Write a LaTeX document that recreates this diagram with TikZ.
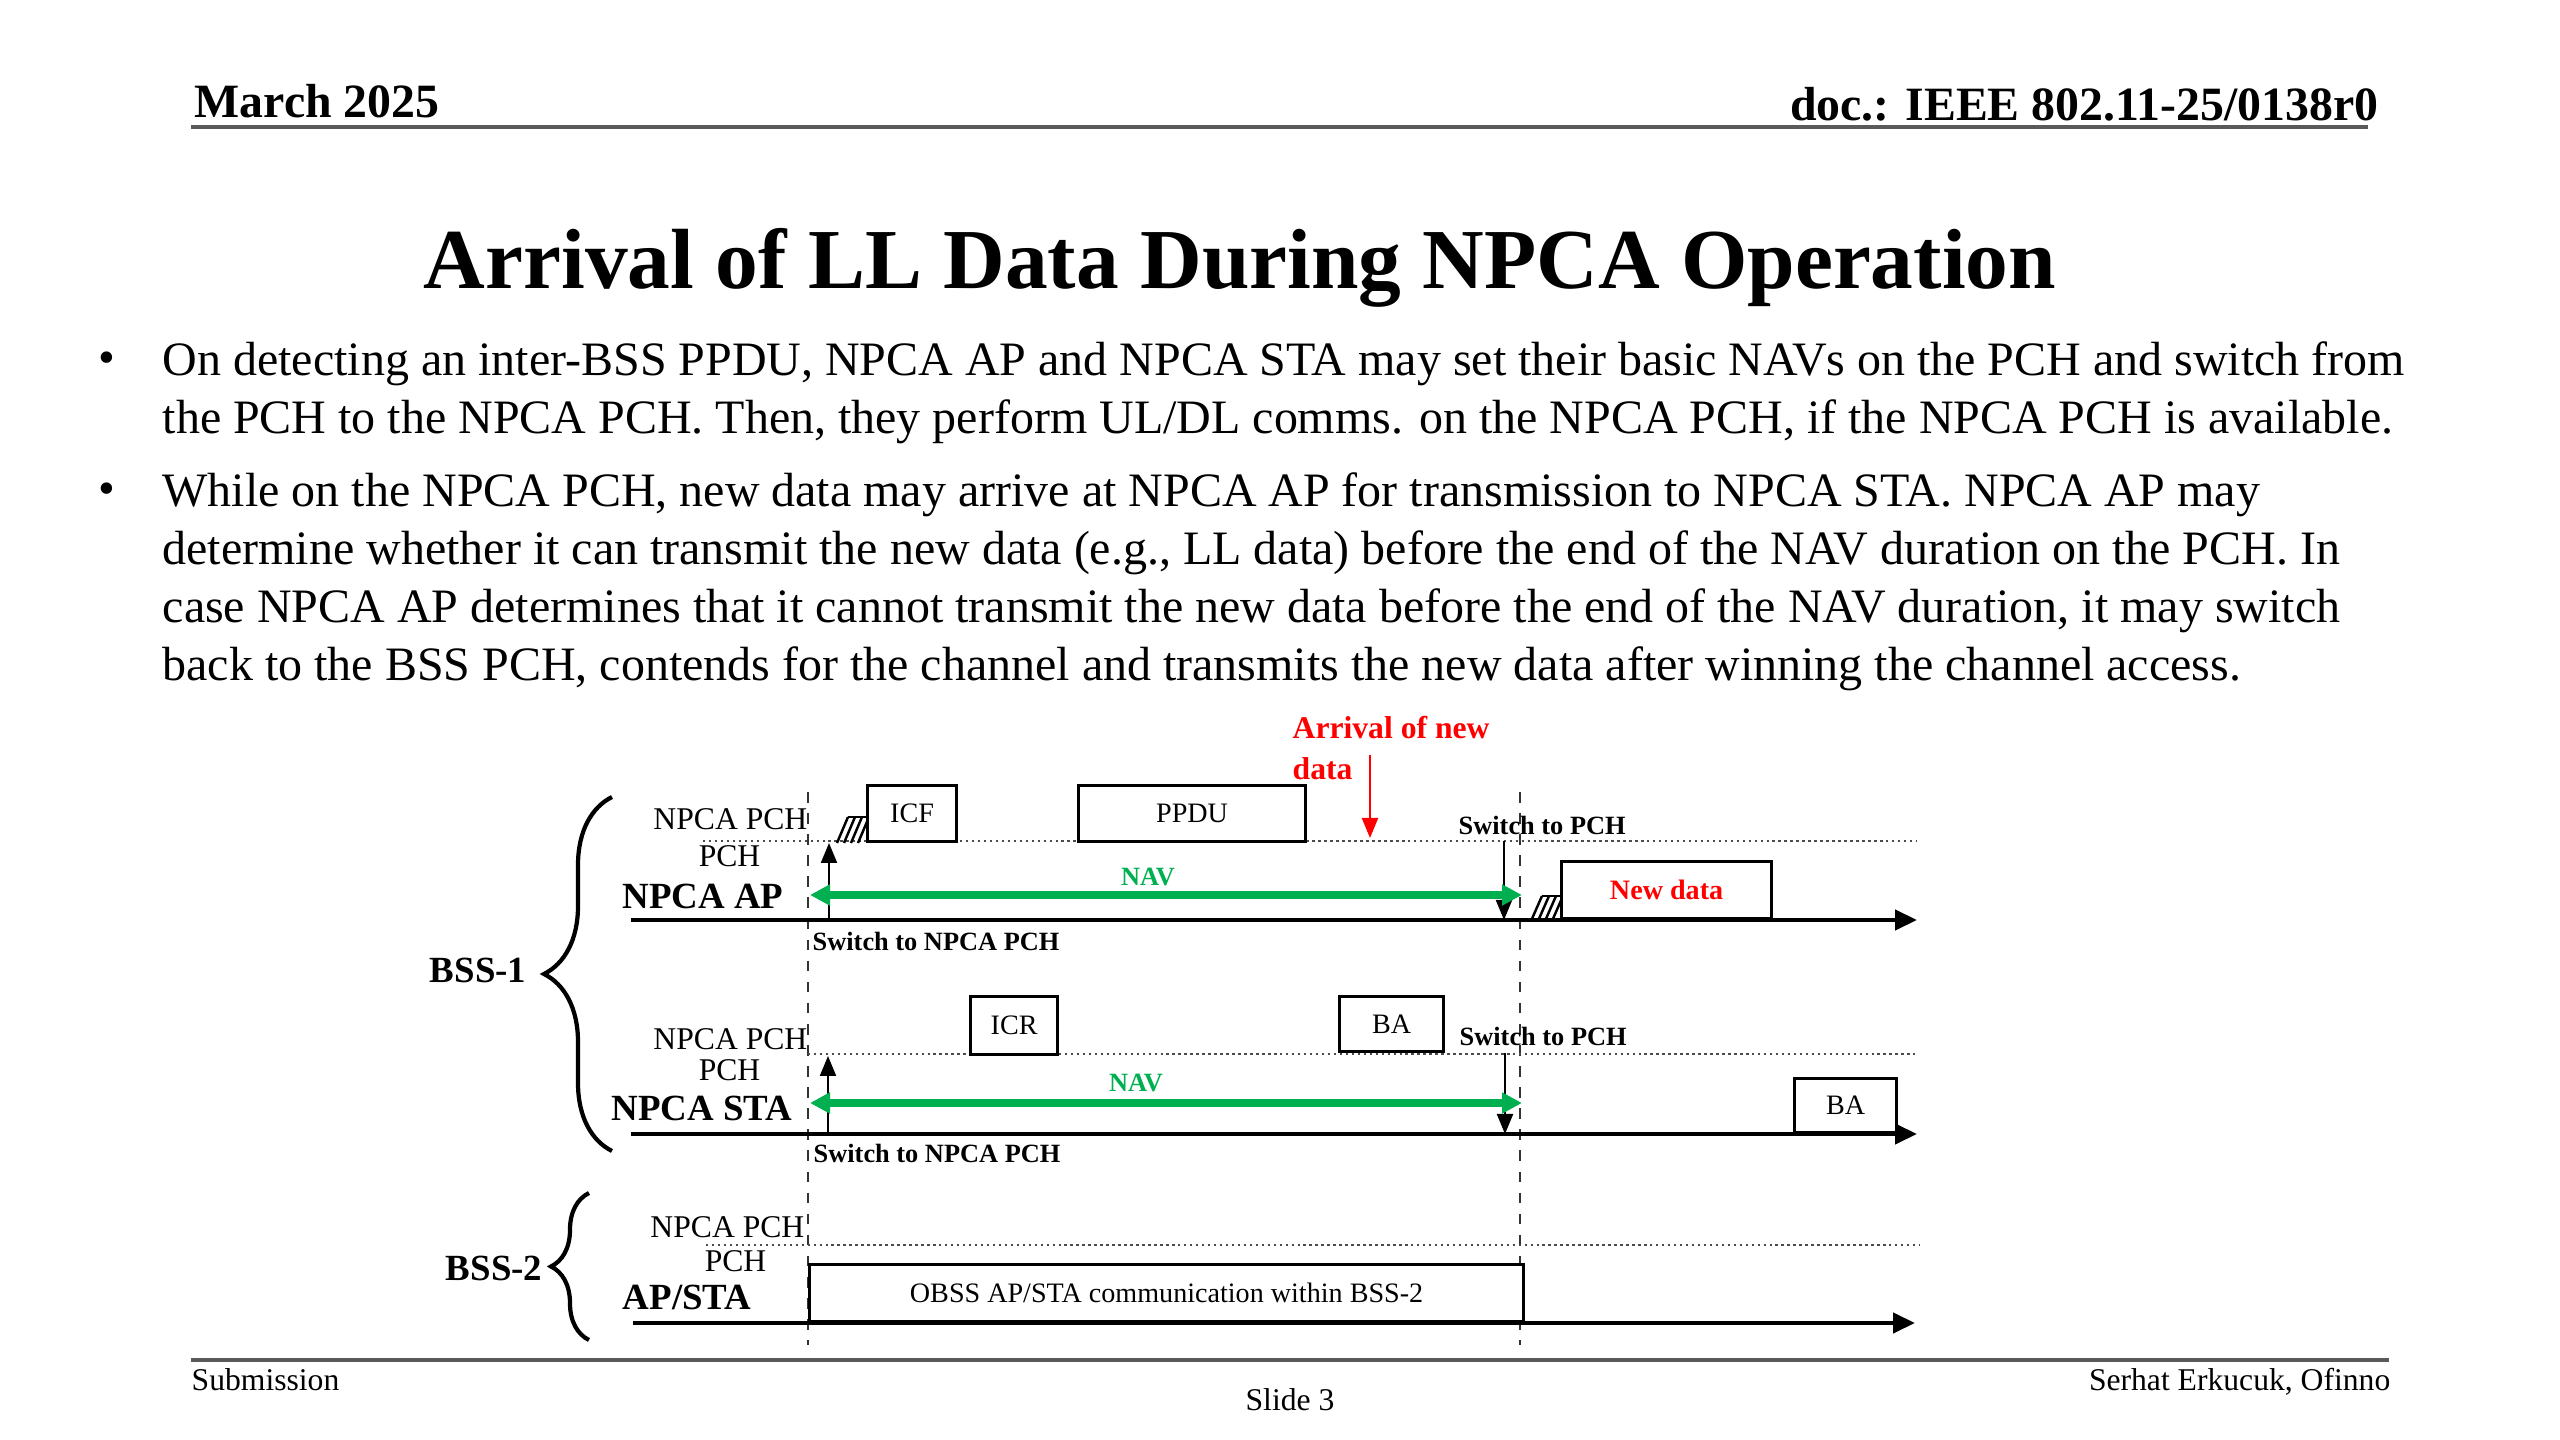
\documentclass[tikz,border=0pt]{standalone}
\usepackage{fontspec}
\setmainfont{Liberation Serif}
\usetikzlibrary{arrows.meta,positioning,decorations.pathreplacing}
\definecolor{navgreen}{RGB}{0,176,80}
\definecolor{alertred}{RGB}{255,0,0}
\definecolor{rulegrey}{RGB}{90,90,90}

\begin{document}
\begin{tikzpicture}[x=0.1mm,y=-0.1mm, every node/.style={inner sep=0pt},
  hdr/.style={font=\fontsize{13.6}{16}\selectfont\bfseries},
  foot/.style={font=\fontsize{9}{11}\selectfont},
  body/.style={font=\fontsize{13.65}{16.5}\selectfont,align=left,anchor=north west},
  chan/.style={font=\fontsize{9}{10}\selectfont,anchor=base east},
  dev/.style={font=\fontsize{10.5}{12}\selectfont\bfseries,anchor=base east},
  grp/.style={font=\fontsize{10.5}{12}\selectfont\bfseries,anchor=east},
  note/.style={font=\fontsize{7.5}{9}\selectfont\bfseries,anchor=base west},
  pkt/.style={draw,line width=0.9pt,fill=white,font=\fontsize{8}{9}\selectfont,anchor=south west},
  axis/.style={line width=1.2pt,-{Triangle[length=2.2mm,width=2mm]}},
  npch/.style={densely dotted,line width=0.7pt,black!70},
  tick/.style={dashed,line width=0.5pt,black!80},
  nav/.style={navgreen,line width=2pt,{Triangle[length=2mm,width=2mm]}-{Triangle[length=2mm,width=2mm]}},
  sw/.style={-{Triangle[length=2mm,width=1.6mm]},line width=0.6pt},
  bo/.style={line width=0.7pt},
  brc/.style={decorate,line width=1.2pt}]
\useasboundingbox (0,0) rectangle (2560,1440);

\node[hdr,anchor=base west] (date) at (194,118) {March 2025};
\node[hdr,anchor=base east] (doc) at (2379,121) {doc.: IEEE 802.11-25/0138r0};
\draw[rulegrey,line width=1.2pt] (191,127) -- (2368,127);
\node[font=\fontsize{24.3}{28}\selectfont\bfseries,anchor=base] (title) at (1240,289)
  {Arrival of LL Data During NPCA Operation};

\node[body,anchor=base west] (d1) at (98,374) {•};
\node[body] (p1) at (162,341) {On detecting an inter-BSS PPDU, NPCA AP and NPCA STA may set their basic NAVs on the PCH and switch from\\
  the PCH to the NPCA PCH. Then, they perform UL/DL comms. on the NPCA PCH, if the NPCA PCH is available.};
\node[body,anchor=base west] (d2) at (98,505) {•};
\node[body] (p2) at (162,472) {While on the NPCA PCH, new data may arrive at NPCA AP for transmission to NPCA STA. NPCA AP may\\
  determine whether it can transmit the new data (e.g., LL data) before the end of the NAV duration on the PCH. In\\
  case NPCA AP determines that it cannot transmit the new data before the end of the NAV duration, it may switch\\
  back to the BSS PCH, contends for the channel and transmits the new data after winning the channel access.};

\coordinate (t0a) at (808,792); \coordinate (t0b) at (808,1345);
\coordinate (t1a) at (1520,792); \coordinate (t1b) at (1520,1345);
\draw[tick] (t0a) -- (t0b);
\draw[tick] (t1a) -- (t1b);

\coordinate (b1t) at (612,797); \coordinate (b1b) at (612,1151);
\draw[brc,decoration={brace,amplitude=6.8mm}] (b1b) -- (b1t);
\node[grp] (bss1) at (527,970) {BSS-1};
\coordinate (b2t) at (589,1193); \coordinate (b2b) at (589,1340);
\draw[brc,decoration={brace,amplitude=3.8mm}] (b2b) -- (b2t);
\node[grp] (bss2) at (543,1268) {BSS-2};

% NPCA AP
\node[chan] (apn) at (808,830) {NPCA PCH};
\node[chan] (app) at (761,867) {PCH};
\node[dev] (ap) at (784,909) {NPCA AP};
\coordinate (ap0) at (631,920); \coordinate (ap1) at (1917,920);
\coordinate (apd0) at (703,841); \coordinate (apd1) at (1917,841);
\draw[npch] (apd0) -- (apd1);
\draw[axis] (ap0) -- (ap1);
\foreach \i in {0,...,3}
  \draw[bo] (837+\i*7,843) -- (848+\i*7,817);
\draw[bo] (848,817) -- (866,817);
\node[pkt,minimum width=8.9mm,minimum height=5.6mm] (icf) at (866,843) {ICF};
\node[pkt,minimum width=22.7mm,minimum height=5.6mm] (ppdu) at (1077,843) {PPDU};
\coordinate (apu0) at (829,920); \coordinate (apu1) at (829,843);
\draw[sw] (apu0) -- (apu1);
\coordinate (apw0) at (1504,841); \coordinate (apw1) at (1504,920);
\draw[sw] (apw0) -- (apw1);
\coordinate (apv0) at (810,895); \coordinate (apv1) at (1522,895);
\draw[nav] (apv0) -- (apv1);
\node[note,navgreen,anchor=center] (nav1) at (1148,877) {NAV};
\node[note] (sp1) at (1458,835) {Switch to PCH};
\node[note] (sn1) at (812,951) {Switch to NPCA PCH};
\node[font=\fontsize{9}{11.5}\selectfont\bfseries,text=alertred,align=left,anchor=north west]
  (arr) at (1292,716) {Arrival of new\\data};
\coordinate (arr0) at (1370,755); \coordinate (arr1) at (1370,838);
\draw[alertred,sw] (arr0) -- (arr1);
\foreach \i in {0,...,3}
  \draw[bo] (1531+\i*7,921) -- (1542+\i*7,896);
\draw[bo] (1542,896) -- (1560,896);
\node[pkt,minimum width=21mm,minimum height=5.7mm,text=alertred,font=\fontsize{8}{9}\selectfont\bfseries]
  (new) at (1560,920) {New data};

% NPCA STA
\node[chan] (stan) at (808,1050) {NPCA PCH};
\node[chan] (stap) at (761,1081) {PCH};
\node[dev] (sta) at (793,1121) {NPCA STA};
\coordinate (st0) at (631,1134); \coordinate (st1) at (1917,1134);
\coordinate (std0) at (808,1054); \coordinate (std1) at (1915,1054);
\draw[npch] (std0) -- (std1);
\draw[axis] (st0) -- (st1);
\node[pkt,minimum width=8.7mm,minimum height=5.8mm] (icr) at (969,1056) {ICR};
\node[pkt,minimum width=10.4mm,minimum height=5.5mm] (ba1) at (1338,1053) {BA};
\node[pkt,minimum width=10.2mm,minimum height=5.4mm] (ba2) at (1793,1134) {BA};
\coordinate (stu0) at (828,1134); \coordinate (stu1) at (828,1056);
\draw[sw] (stu0) -- (stu1);
\coordinate (stw0) at (1505,1053); \coordinate (stw1) at (1505,1134);
\draw[sw] (stw0) -- (stw1);
\coordinate (stv0) at (810,1103); \coordinate (stv1) at (1522,1103);
\draw[nav] (stv0) -- (stv1);
\node[note,navgreen,anchor=center] (nav2) at (1136,1083) {NAV};
\node[note] (sp2) at (1459,1046) {Switch to PCH};
\node[note] (sn2) at (813,1162) {Switch to NPCA PCH};

% BSS-2
\node[chan] (obn) at (805,1237) {NPCA PCH};
\node[chan] (obp) at (767,1272) {PCH};
\node[dev] (ob) at (752,1310) {AP/STA};
\coordinate (ob0) at (633,1323); \coordinate (ob1) at (1915,1323);
\coordinate (obd0) at (706,1245); \coordinate (obd1) at (1920,1245);
\draw[npch] (obd0) -- (obd1);
\draw[axis] (ob0) -- (ob1);
\node[pkt,minimum width=71.4mm,minimum height=5.7mm] (obss) at (808,1323)
  {OBSS AP/STA communication within BSS-2};

\draw[rulegrey,line width=1.2pt] (191,1360) -- (2389,1360);
\node[foot,anchor=base west] (sub) at (191,1390) {Submission};
\node[foot,anchor=base] (slide) at (1290,1410) {Slide 3};
\node[foot,anchor=base east] (auth) at (2391,1390) {Serhat Erkucuk, Ofinno};
\end{tikzpicture}
\end{document}
